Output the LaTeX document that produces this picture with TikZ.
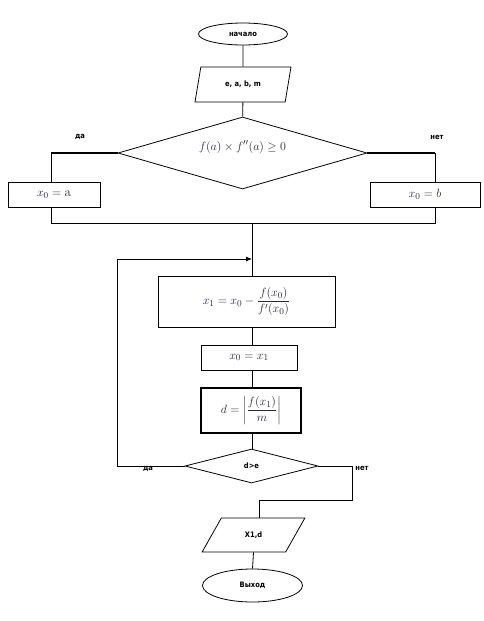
\documentclass[tikz,border=0pt]{standalone}
\usepackage{amsmath}
\usepackage{fontspec}
\newfontfamily\lbl{DejaVu Sans Condensed}
\usetikzlibrary{shapes.geometric,arrows.meta}
\definecolor{mathc}{rgb}{0.15,0.15,0.25}
\begin{document}
\begin{tikzpicture}[x=1pt,y=-1pt,line width=0.8pt,
  lab/.style={font=\lbl\bfseries\fontsize{7.5}{8}\selectfont, inner sep=0pt},
  term/.style={ellipse, draw, inner sep=0pt, font=\lbl\bfseries\fontsize{7.5}{8}\selectfont},
  io/.style={trapezium, draw, trapezium stretches=true, inner sep=0pt, font=\lbl\bfseries\fontsize{7.5}{8}\selectfont},
  proc/.style={rectangle, draw, inner sep=0pt, font=\fontsize{13}{15}\selectfont, text=mathc},
  dec/.style={diamond, draw, inner sep=0pt}
]
\useasboundingbox (0,0) rectangle (484,621);
% top part
\node[term, minimum width=89, minimum height=22] (st) at (243,34) {начало};
\node[io, trapezium left angle=70, trapezium right angle=110, minimum width=96, minimum height=35] (p1) at (243,84.5) {е, а, b, m};
\node[dec, minimum width=249, minimum height=72] (d1) at (242.5,153) {};
\node[font=\fontsize{13}{15}\selectfont, text=mathc, inner sep=0pt] (f1) at (242.5,147) {$f(a)\times f''(a)\geq 0$};
\node[proc, minimum width=92, minimum height=25] (xa) at (54,194.5) {$x_0=\mathrm{a}$};
\node[proc, minimum width=110, minimum height=25] (xb) at (425,194.5) {$x_0=b$};
\node[lab] (yes1) at (80,137) {да};
\node[lab] (no1) at (437,137) {нет};
\coordinate (jl) at (51,223);
\coordinate (jr) at (435,223);
\coordinate (j) at (252,223);
\coordinate (m) at (252,259);
\coordinate (lp) at (117,259);
\draw (st) -- (p1);
\draw (p1) -- (d1);
\draw[line width=1.3pt] (d1.west) -- (d1.west -| jl);
\draw (d1.west -| jl) -- (jl |- xa.north);
\draw[line width=1.3pt] (d1.east) -- (d1.east -| jr);
\draw (d1.east -| jr) -- (jr |- xb.north);
\draw (jl |- xa.south) -- (jl) -- (jr) -- (jr |- xb.south);
% loop
\node[proc, minimum width=177, minimum height=51] (b1) at (246.5,301.5) {$x_1=x_0-\dfrac{f(x_0)}{f'(x_0)}$};
\node[proc, minimum width=96, minimum height=25] (b2) at (249,357.5) {$x_0=x_1$};
\node[proc, line width=1.6pt, minimum width=100, minimum height=45] (b3) at (251,410.5) {$d=\left|\dfrac{f(x_1)}{m}\right|$};
\node[dec, minimum width=133, minimum height=34, font=\lbl\bfseries\fontsize{7.5}{8}\selectfont] (d2) at (251.5,466) {d>e};
\node[lab] (yes2) at (148,469) {да};
\node[lab] (no2) at (362,468) {нет};
\node[io, trapezium left angle=52.6, trapezium right angle=127.4, minimum width=103, minimum height=34] (p2) at (253.5,535) {X1,d};
\node[term, minimum width=100, minimum height=33] (ex) at (252.5,585.5) {Выход};
\coordinate (r1) at (352,500);
\coordinate (r2) at (259,500);
\draw (j) -- (j |- b1.north);
\draw (b1.south -| j) -- (b2.north -| j);
\draw (b2.south -| j) -- (b3.north -| j);
\draw (b3.south -| j) -- (d2.north -| j);
\draw[-{Latex[length=6pt,width=5pt]}] (d2.west) -| (lp) -- (m);
\draw (d2.east) -| (r1) -- (r2) -- (r2 |- p2.north);
\draw (p2.south) -- (ex.north);
\end{tikzpicture}
\end{document}
